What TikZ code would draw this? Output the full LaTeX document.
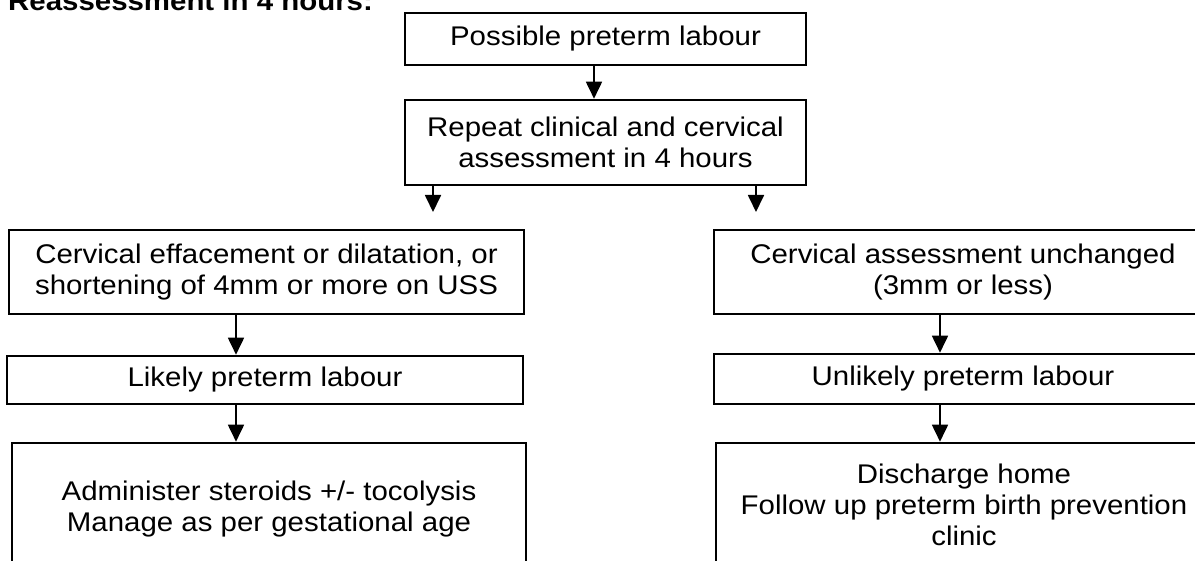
\documentclass[tikz,border=0pt]{standalone}
\usepackage{fontspec}
\setmainfont{Liberation Sans}[FakeStretch=1.09]
\usetikzlibrary{arrows.meta,calc}

\begin{document}
\begin{tikzpicture}[x=1pt,y=-1pt,
        box/.style={draw,line width=2.6pt,inner sep=0pt,align=center,font=\fontsize{27}{31}\selectfont},
        arr/.style={-{Triangle[width=16pt,length=17pt]},line width=1.8pt}]
        \clip (0,0) rectangle (1195,561);
        \node[anchor=base west,inner sep=0pt,font=\bfseries\fontsize{27}{30}\selectfont] (title) at (8,11) {Reassessment in 4 hours:};
        \node[box,minimum width=401,minimum height=52] (poss) at (605.5,39) {Possible preterm labour};
        \node[box,minimum width=401,minimum height=85] (rep) at (605.5,142.5) {Repeat clinical and cervical\\assessment in 4 hours};
        \node[box,minimum width=515,minimum height=84] (eff) at (266.5,272) {Cervical effacement or dilatation, or\\shortening of 4mm or more on USS};
        \node[box,minimum width=516,minimum height=48] (lik) at (265,380) {Likely preterm labour};
        \node[box,minimum width=514,minimum height=132] (ster) at (269,509) {Administer steroids +/- tocolysis\\Manage as per gestational age};
        \node[box,minimum width=498,minimum height=84] (unch) at (963,272) {Cervical assessment unchanged\\(3mm or less)};
        \node[box,minimum width=498,minimum height=50] (unlik) at (963,379) {Unlikely preterm labour};
        \node[box,minimum width=496,minimum height=124] (dis) at (964,505) {Discharge home\\Follow up preterm birth prevention\\clinic};
        \coordinate (mcol) at (594,0);
        \coordinate (lsplit) at (433,212);
        \coordinate (rsplit) at (756,212);
        \coordinate (lcol) at (236,0);
        \coordinate (rcol) at (940,0);
        \draw[arr] (poss.south -| mcol) -- (rep.north -| mcol);
        \draw[arr] (rep.south -| lsplit) -- (lsplit);
        \draw[arr] (rep.south -| rsplit) -- (rsplit);
        \draw[arr] (eff.south -| lcol) -- (lik.north -| lcol);
        \draw[arr] (lik.south -| lcol) -- (ster.north -| lcol);
        \draw[arr] (unch.south -| rcol) -- (unlik.north -| rcol);
        \draw[arr] (unlik.south -| rcol) -- (dis.north -| rcol);
\end{tikzpicture}
\end{document}
